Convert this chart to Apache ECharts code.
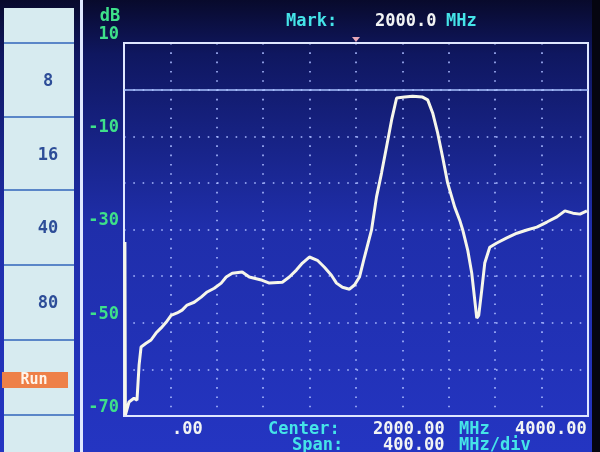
<!DOCTYPE html>
<html><head><meta charset="utf-8">
<script src="https://cdn.jsdelivr.net/npm/echarts@6/dist/echarts.min.js"></script>
<style>html,body{margin:0;padding:0;background:#000;}#c{width:600px;height:452px;}</style>
</head><body><div id="c"></div>
<script>
// Trace: frequency (MHz) and level (dB)
const freqMHz = [8, 12, 17, 43, 86, 112, 130, 147, 190, 233, 276, 320, 363, 406, 458, 501, 544, 605, 665, 717, 778, 838, 881, 933, 1019, 1080, 1192, 1253, 1365, 1425, 1486, 1538, 1598, 1667, 1728, 1788, 1832, 1883, 1944, 1987, 2030, 2073, 2134, 2177, 2220, 2263, 2307, 2350, 2419, 2488, 2574, 2618, 2661, 2704, 2747, 2790, 2851, 2894, 2920, 2963, 2998, 3024, 3041, 3058, 3084, 3110, 3153, 3214, 3300, 3387, 3473, 3559, 3646, 3732, 3801, 3870, 3931, 3991];
const levelDb = [-32.7, -69.8, -69.5, -67.0, -66.2, -66.6, -59.1, -55.2, -54.4, -53.7, -52.2, -51.1, -49.9, -48.4, -47.9, -47.3, -46.2, -45.6, -44.5, -43.4, -42.6, -41.5, -40.2, -39.4, -39.1, -40.2, -40.9, -41.5, -41.3, -40.2, -38.7, -37.2, -35.9, -36.6, -38.1, -39.8, -41.5, -42.4, -42.8, -41.9, -40.2, -35.9, -30.1, -23.0, -17.9, -12.3, -6.5, -1.8, -1.6, -1.4, -1.6, -2.2, -5.0, -9.3, -14.5, -20.0, -25.2, -28.0, -30.1, -34.4, -39.4, -45.2, -49.0, -48.4, -43.0, -37.2, -33.8, -32.9, -31.8, -30.8, -30.1, -29.5, -28.4, -27.3, -26.0, -26.5, -26.7, -26.0];
const yTickLabels = ['10', '-10', '-30', '-50', '-70'];
const refLevelDb = 0;
const markFreq = 2000;
const sideButtons = ['8', '16', '40', '80'];
const runLabel = 'Run';
const headerTexts = ['dB', 'Mark:', '2000.0', 'MHz'];
const footerTexts = ['.00', 'Center:', '2000.00', 'MHz', '4000.00', 'Span:', '400.00', 'MHz/div'];

const FONT = 'DejaVu Sans Mono';
const GREEN = '#3ee08a', CYAN = '#45e4e8', WHITE = '#f2f4f4';
function txt(x, y, s, color, align) {
  return {type: 'text', x: x, y: y, z: 20,
    style: {text: s, fill: color, font: 'bold 17px "' + FONT + '"', textAlign: align || 'left', textVerticalAlign: 'middle'}};
}
const data = freqMHz.map((f, i) => [f, levelDb[i]]);
const chart = echarts.init(document.getElementById('c'));

const cellLines = [43, 117, 190, 265, 340, 415];
const cellCenters = [82, 156, 229, 304];
const graphics = [
  {type: 'rect', shape: {x: 0, y: 0, width: 600, height: 452}, z: -10,
   style: {fill: new echarts.graphic.LinearGradient(0, 0, 0, 1, [
     {offset: 0, color: '#080a2c'}, {offset: 0.12, color: '#0f1760'}, {offset: 0.5, color: '#1f2eaa'}, {offset: 1, color: '#2435c2'}])}},
  {type: 'rect', shape: {x: 592, y: 0, width: 8, height: 452}, z: -5, style: {fill: '#050510'}},
  {type: 'rect', shape: {x: 4, y: 8, width: 70, height: 444}, z: 1, style: {fill: '#d7ebf0'}},
  {type: 'rect', shape: {x: 80, y: 0, width: 3, height: 452}, z: 1, style: {fill: '#dfe8ff'}},
];
cellLines.forEach(y => graphics.push({type: 'rect', shape: {x: 4, y: y - 1, width: 70, height: 2}, z: 2, style: {fill: '#5a86c8'}}));
sideButtons.forEach((s, i) => graphics.push({type: 'text', x: 48, y: cellCenters[i], z: 3,
  style: {text: s, fill: '#2d4d98', font: 'bold 17px "' + FONT + '"', textAlign: 'center', textVerticalAlign: 'middle'}}));
graphics.push({type: 'rect', shape: {x: 2, y: 372, width: 66, height: 16}, z: 3, style: {fill: '#ee8048'}});
graphics.push({type: 'text', x: 34, y: 380, z: 4, style: {text: runLabel, fill: '#fff4ea', font: 'bold 15px "' + FONT + '"', textAlign: 'center', textVerticalAlign: 'middle'}});
graphics.push(txt(110, 17, headerTexts[0], GREEN, 'center'));
graphics.push(txt(286, 22, headerTexts[1], CYAN));
graphics.push(txt(375, 22, headerTexts[2], WHITE));
graphics.push(txt(446, 22, headerTexts[3], CYAN));
graphics.push(txt(172, 430, footerTexts[0], WHITE));
graphics.push(txt(268, 430, footerTexts[1], CYAN));
graphics.push(txt(373, 430, footerTexts[2], WHITE));
graphics.push(txt(459, 430, footerTexts[3], CYAN));
graphics.push(txt(515, 430, footerTexts[4], WHITE));
graphics.push(txt(292, 446, footerTexts[5], CYAN));
graphics.push(txt(383, 446, footerTexts[6], WHITE));
graphics.push(txt(459, 446, footerTexts[7], CYAN));

chart.setOption({
  animation: false,
  backgroundColor: 'transparent',
  grid: {left: 124, top: 43, width: 464, height: 373, show: true, borderColor: '#dfe7ff', borderWidth: 2, backgroundColor: 'transparent', z: 5},
  xAxis: {type: 'value', min: 0, max: 4000, interval: 400,
    axisLine: {show: false}, axisTick: {show: false}, axisLabel: {show: false},
    splitLine: {show: true, lineStyle: {color: '#a9b9ff', width: 1.6, type: [1.6, 7.7]}}},
  yAxis: {type: 'value', min: -70, max: 10, interval: 10,
    axisLine: {show: false}, axisTick: {show: false},
    axisLabel: {color: GREEN, fontFamily: FONT, fontWeight: 'bold', fontSize: 17, margin: 5, verticalAlign: 'bottom',
      formatter: v => yTickLabels.indexOf(String(v)) >= 0 ? String(v) : ''},
    splitLine: {show: true, lineStyle: {color: '#a9b9ff', width: 1.6, type: [1.6, 7.7]}}},
  series: [{type: 'line', data: data, symbol: 'none', z: 10,
    lineStyle: {color: '#f6f6ea', width: 3},
    markLine: {silent: true, symbol: 'none', label: {show: false},
      lineStyle: {color: '#a8c2ff', width: 1.6, type: 'solid'}, data: [{yAxis: refLevelDb}]}}],
  graphic: graphics
});
const p = chart.convertToPixel({gridIndex: 0}, [markFreq, 10]);
graphics.push({type: 'polygon', z: 30, shape: {points: [[p[0] - 4, p[1] - 6], [p[0] + 4, p[1] - 6], [p[0], p[1] - 1]]}, style: {fill: '#e8a8b8'}});
chart.setOption({graphic: graphics});
</script></body></html>
